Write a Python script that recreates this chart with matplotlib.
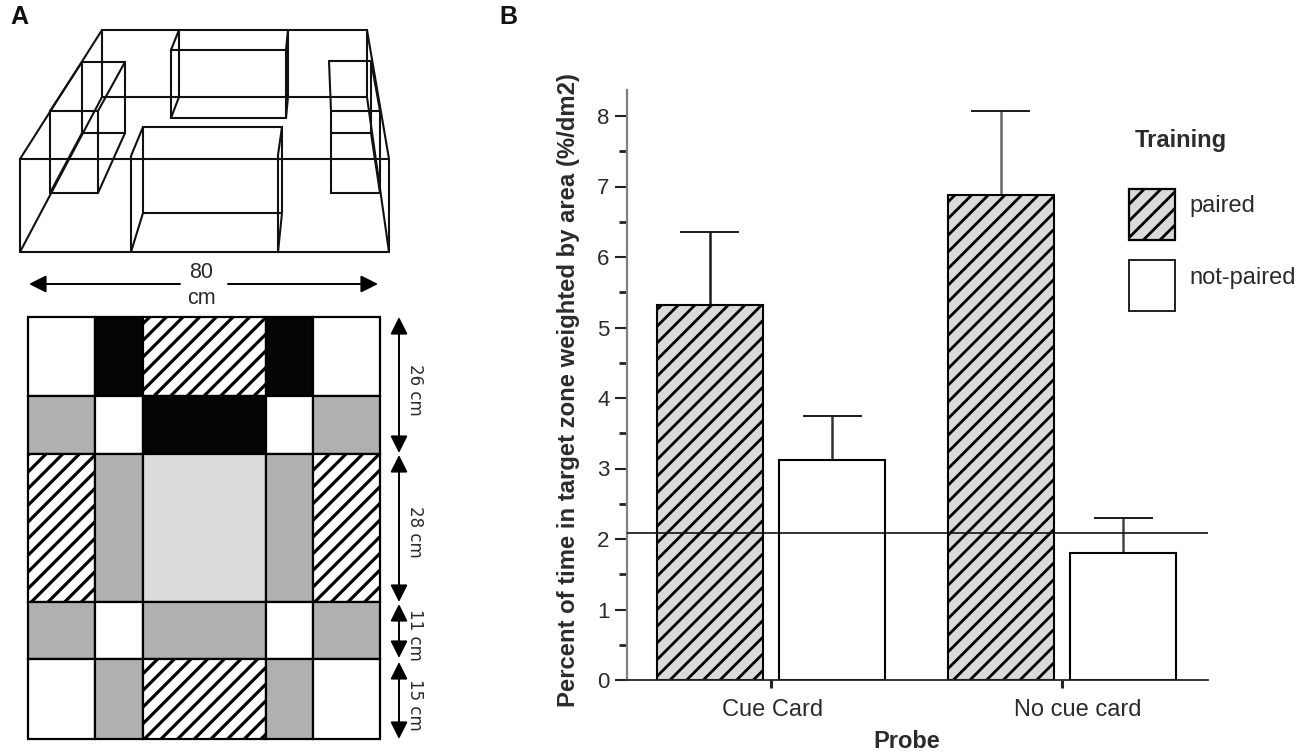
"""Two-panel figure: arena schematic (A) and target-zone bars (B)."""

import matplotlib
matplotlib.use("Agg")
import matplotlib.pyplot as plt
import numpy as np
from matplotlib.patches import Rectangle
from matplotlib.transforms import ScaledTranslation

plt.rcParams["font.family"] = ["Liberation Sans", "DejaVu Sans"]

W, H = 1300, 753

# panel B data
probes = ["Cue Card", "No cue card"]
paired = [5.32, 6.88]
not_paired = [3.12, 1.80]
paired_top = [6.36, 8.07]
not_paired_top = [3.74, 2.30]
chance_level = 2.08
y_ticks = [0, 1, 2, 3, 4, 5, 6, 7, 8]
legend_labels = ["paired", "not-paired"]

# panel A, wireframe arena (picture pixels)
wire_segments = [
    # outer arena
    ((20, 159), (389, 159)), ((389, 159), (389, 252)), ((389, 252), (20, 252)), ((20, 252), (20, 159)),
    ((102, 30), (367, 30)), ((102, 30), (102, 97)), ((367, 30), (367, 97)), ((102, 97), (367, 97)),
    ((20, 159), (102, 30)), ((20, 252), (102, 97)), ((389, 159), (367, 30)), ((389, 252), (367, 97)),
    # left boxes
    ((82, 62), (125, 62)), ((125, 62), (125, 133)), ((125, 133), (82, 133)), ((82, 133), (82, 62)),
    ((50, 111), (98, 111)), ((98, 111), (98, 193)), ((98, 193), (50, 193)), ((50, 193), (50, 111)),
    ((50, 111), (82, 62)), ((98, 111), (125, 62)), ((98, 193), (125, 133)), ((50, 193), (82, 133)),
    # centre back box
    ((171, 50), (286, 50)), ((286, 50), (286, 118)), ((286, 118), (171, 118)), ((171, 118), (171, 50)),
    ((179, 30), (179, 97)), ((288, 30), (288, 97)),
    ((171, 50), (179, 30)), ((171, 118), (179, 97)), ((286, 50), (288, 30)), ((286, 118), (288, 97)),
    # centre front box
    ((131, 156), (131, 252)), ((278, 155), (278, 252)),
    ((143, 127), (282, 127)), ((143, 127), (143, 213)), ((282, 127), (282, 213)), ((143, 213), (282, 213)),
    ((131, 156), (143, 127)), ((131, 252), (143, 213)), ((278, 155), (282, 127)), ((278, 252), (282, 213)),
    # right boxes
    ((329, 61), (371, 61)), ((371, 61), (371, 133)), ((371, 133), (331, 133)), ((329, 61), (331, 111)),
    ((331, 111), (380, 111)), ((380, 111), (380, 193)), ((380, 193), (331, 193)), ((331, 193), (331, 111)),
    ((371, 61), (380, 111)), ((371, 133), (380, 193)),
]

# panel A, floor plan grid
grid_x = [28, 94.5, 143, 266, 313, 380]
grid_y = [317, 396, 454, 602, 659, 739]
grid_cells = [
    ["w", "k", "h", "k", "w"],
    ["g", "w", "k", "w", "g"],
    ["h", "g", "l", "g", "h"],
    ["g", "w", "g", "w", "g"],
    ["w", "g", "h", "g", "w"],
]
dim_labels = ["26 cm", "28 cm", "11 cm", "15 cm"]
dim_spans = [(317, 453), (455, 602), (604, 658), (662, 739)]
dim_text_y = [390, 532, 635, 705]

CELL_COLORS = {"w": "white", "k": "#050505", "g": "#b0b0b0", "l": "#dcdcdc", "h": "white"}
TEXT = "#2b2b2b"
ARROW = dict(color="black", lw=1.4, mutation_scale=26, shrinkA=0, shrinkB=0)

fig = plt.figure(figsize=(W / 100, H / 100), dpi=100)

# axes for panel B, placed on the reference pixels
ax = fig.add_axes([627 / W, 1 - 680 / H, 581 / W, 590 / H])
ax.set_xlim(-0.495, 1.502)
ax.set_ylim(0, 590 / 70.5)

bar_w = 0.364
off = 0.21
x = np.arange(len(probes))
plt.rcParams["hatch.linewidth"] = 2.0
ax.bar(x - off, paired, bar_w, facecolor="#dadada", edgecolor="black", hatch="//", linewidth=1.5, zorder=2)
ax.bar(x + off, not_paired, bar_w, facecolor="white", edgecolor="black", linewidth=1.5, zorder=2)

err_colors = ["#1a1a1a", "#333333", "#666666", "#444444"]
xs = [x[0] - off, x[0] + off, x[1] - off, x[1] + off]
tops = [paired_top[0], not_paired_top[0], paired_top[1], not_paired_top[1]]
vals = [paired[0], not_paired[0], paired[1], not_paired[1]]
for xi, v, t, c in zip(xs, vals, tops, err_colors):
    ax.plot([xi, xi], [v, t], color=c, linewidth=1.8, zorder=1)
    ax.plot([xi - 0.098, xi + 0.098], [t, t], color="#1a1a1a", linewidth=1.4, zorder=1)

ax.axhline(chance_level, color="#111111", linewidth=1.2, zorder=3)

for side in ["top", "right"]:
    ax.spines[side].set_visible(False)
ax.spines["left"].set_color("#808080")
ax.spines["left"].set_linewidth(1.6)
ax.spines["bottom"].set_color("#222222")
ax.spines["bottom"].set_linewidth(1.3)

ax.set_yticks(y_ticks)
ax.set_yticks(np.arange(0.5, 8, 1), minor=True)
ax.set_xticks(x, probes)
ax.tick_params(axis="y", which="major", length=8.5, width=1.5, labelsize=16, labelcolor=TEXT, color="#222222", pad=4)
ax.tick_params(axis="y", which="minor", length=5.5, width=2, color="#222222")
ax.tick_params(axis="x", length=5.5, width=2.2, labelsize=17, labelcolor=TEXT, color="#222222", pad=8)

# labels sit off the tick centres in the original
px = 1 / fig.dpi
tl = ax.get_xticklabels()
tl[0].set_transform(tl[0].get_transform() + ScaledTranslation(2 * px, 0, fig.dpi_scale_trans))
tl[1].set_transform(tl[1].get_transform() + ScaledTranslation(16 * px, 0, fig.dpi_scale_trans))

ax.set_ylabel("Percent of time in target zone weighted by area (%/dm2)", fontsize=17.2, fontweight="bold", color=TEXT)
ax.set_xlabel("Probe", fontsize=17, fontweight="bold", color=TEXT)
ax.xaxis.set_label_coords((907 - 627) / 581, -62 / 590)
ax.yaxis.set_label_coords((568 - 627) / 581, (680 - 390) / 590)
ax.xaxis.get_label().set_va("center")
ax.yaxis.get_label().set_va("center")

# overlay in picture pixels for panel A and the legend
ov = fig.add_axes([0, 0, 1, 1], facecolor="none")
ov.set_xlim(0, W)
ov.set_ylim(H, 0)
ov.axis("off")

ov.text(19, 17, "A", fontsize=18, fontweight="bold", ha="center", va="center", color="#111111")
ov.text(508, 17, "B", fontsize=18, fontweight="bold", ha="center", va="center", color="#111111")

for p, q in wire_segments:
    ov.plot([p[0], q[0]], [p[1], q[1]], color="#111111", linewidth=1.5, solid_capstyle="round")

ov.annotate("", xy=(29, 284), xytext=(180, 284), arrowprops=dict(arrowstyle="-|>", **ARROW))
ov.annotate("", xy=(378, 284), xytext=(228, 284), arrowprops=dict(arrowstyle="-|>", **ARROW))
ov.text(201, 272, "80", fontsize=15.5, ha="center", va="center", color=TEXT)
ov.text(201, 298, "cm", fontsize=15.5, ha="center", va="center", color=TEXT)

# floor plan
plt.rcParams["hatch.linewidth"] = 2.3
for r, row in enumerate(grid_cells):
    for c, kind in enumerate(row):
        x0, x1 = grid_x[c], grid_x[c + 1]
        y0, y1 = grid_y[r], grid_y[r + 1]
        ov.add_patch(Rectangle((x0, y0), x1 - x0, y1 - y0, facecolor=CELL_COLORS[kind], edgecolor="black",
                               linewidth=1.6, hatch="//" if kind == "h" else None))

for label, (a, b), ty in zip(dim_labels, dim_spans, dim_text_y):
    ov.annotate("", xy=(399, a), xytext=(399, b), arrowprops=dict(arrowstyle="<|-|>", **ARROW))
    ov.text(415, ty, label, fontsize=12, family="DejaVu Sans", rotation=-90, ha="center", va="center", color=TEXT)

# legend
ov.text(1181, 140, "Training", fontsize=17, fontweight="bold", ha="center", va="center", color=TEXT)
plt.rcParams["hatch.linewidth"] = 2.0
ov.add_patch(Rectangle((1129, 189), 46, 51, facecolor="#dadada", edgecolor="black", linewidth=1.6, hatch="//"))
ov.add_patch(Rectangle((1129, 260), 46, 51, facecolor="white", edgecolor="#222222", linewidth=1.4))
ov.text(1189, 206, legend_labels[0], fontsize=17, ha="left", va="center", color=TEXT)
ov.text(1189, 278, legend_labels[1], fontsize=17, ha="left", va="center", color=TEXT)

fig.savefig("out.png", dpi=100)
